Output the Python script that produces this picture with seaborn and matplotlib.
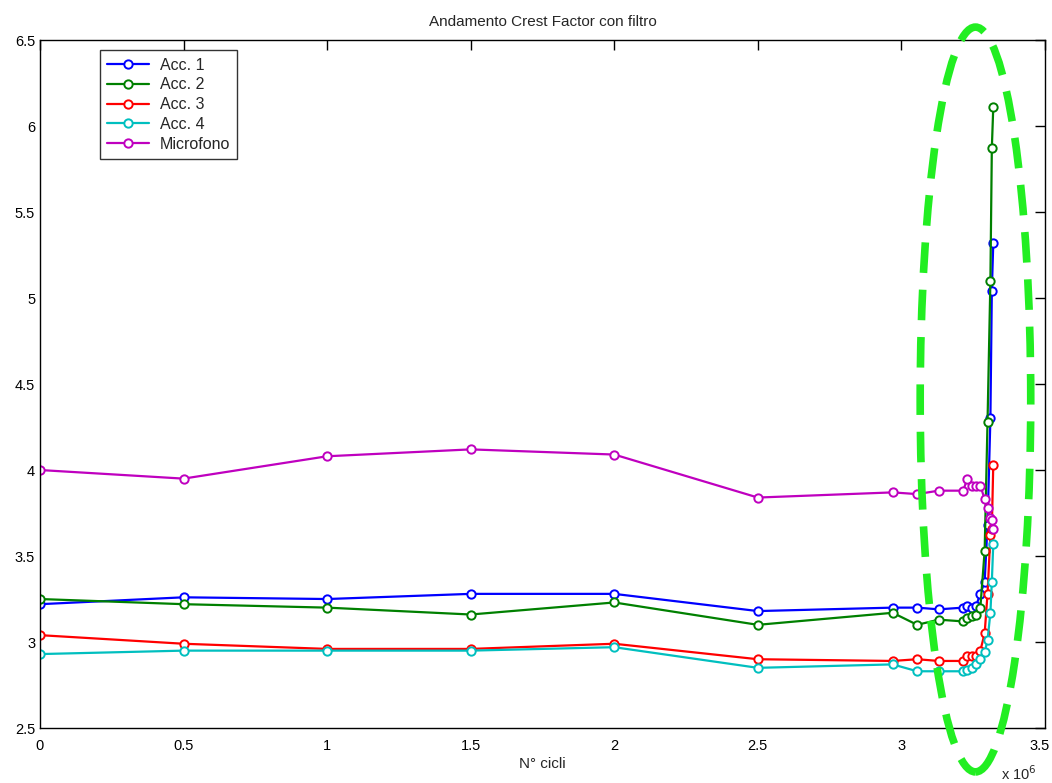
import numpy as np
import pandas as pd
import matplotlib
matplotlib.use("Agg")
import matplotlib.pyplot as plt
import matplotlib.transforms as mtransforms
import seaborn as sns
from matplotlib.patches import Ellipse

# numero di cicli (stesso asse per tutte le serie)
cicli = [0.0, 0.5e6, 1.0e6, 1.5e6, 2.0e6, 2.5e6, 2.97e6, 3.055e6, 3.13e6,
         3.215e6, 3.23e6, 3.245e6, 3.26e6, 3.275e6, 3.29e6, 3.30e6,
         3.31e6, 3.315e6, 3.32e6]

acc1 = [3.22, 3.26, 3.25, 3.28, 3.28, 3.18, 3.20, 3.20, 3.19,
        3.20, 3.21, 3.20, 3.21, 3.28, 3.35, 3.68, 4.30, 5.04, 5.32]
acc2 = [3.25, 3.22, 3.20, 3.16, 3.23, 3.10, 3.17, 3.10, 3.13,
        3.12, 3.14, 3.15, 3.16, 3.20, 3.53, 4.28, 5.10, 5.87, 6.11]
acc3 = [3.04, 2.99, 2.96, 2.96, 2.99, 2.90, 2.89, 2.90, 2.89,
        2.89, 2.92, 2.92, 2.92, 2.95, 3.05, 3.28, 3.62, 3.66, 4.03]
acc4 = [2.93, 2.95, 2.95, 2.95, 2.97, 2.85, 2.87, 2.83, 2.83,
        2.83, 2.84, 2.85, 2.87, 2.90, 2.94, 3.01, 3.17, 3.35, 3.57]
microfono = [4.00, 3.95, 4.08, 4.12, 4.09, 3.84, 3.87, 3.86, 3.88,
             3.88, 3.95, 3.91, 3.91, 3.91, 3.83, 3.78, 3.72, 3.71, 3.66]

serie = ["Acc. 1", "Acc. 2", "Acc. 3", "Acc. 4", "Microfono"]
colori = ["#0000ff", "#008000", "#ff0000", "#00bfbf", "#bf00bf"]

x_ticks = [0, 0.5e6, 1e6, 1.5e6, 2e6, 2.5e6, 3e6, 3.5e6]
x_labels = ["0", "0.5", "1", "1.5", "2", "2.5", "3", "3.5"]
y_ticks = [2.5, 3, 3.5, 4, 4.5, 5, 5.5, 6, 6.5]
y_labels = ["2.5", "3", "3.5", "4", "4.5", "5", "5.5", "6", "6.5"]

df = pd.DataFrame({"cicli": cicli, "Acc. 1": acc1, "Acc. 2": acc2,
                   "Acc. 3": acc3, "Acc. 4": acc4, "Microfono": microfono})
df = df.melt(id_vars="cicli", var_name="serie", value_name="crest")

sns.set_style("white")
plt.rcParams["font.family"] = ["Liberation Sans", "DejaVu Sans"]

fig = plt.figure(figsize=(10.52, 7.83), dpi=100)
ax = fig.add_axes([0.038, 0.0702, 0.9553, 0.8787])

for nome, col in zip(serie, colori):
    sns.lineplot(data=df[df["serie"] == nome], x="cicli", y="crest", ax=ax,
                 color=col, marker="o", markersize=6, markerfacecolor="white",
                 markeredgecolor=col, markeredgewidth=1.4, linewidth=1.6,
                 label=nome, estimator=None, sort=False)

ax.set_xlim(0, 3.5e6)
ax.set_ylim(2.5, 6.5)
ax.set_xticks(x_ticks)
ax.set_xticklabels(x_labels)
ax.set_yticks(y_ticks)
ax.set_yticklabels(y_labels)
ax.tick_params(direction="in", length=7, width=1, top=True, right=True,
               labelsize=10.5, colors="black")
ax.tick_params(axis="x", pad=8)
for s in ax.spines.values():
    s.set_color("black")
    s.set_linewidth(1)

# l'ultima etichetta dell'asse x tocca il bordo: la sposto un poco a sinistra
last = ax.get_xticklabels()[-1]
last.set_transform(last.get_transform() +
                   mtransforms.ScaledTranslation(-4 / 72, 0, fig.dpi_scale_trans))

ax.set_title("Andamento Crest Factor con filtro", fontsize=11, pad=10)
ax.set_xlabel("N° cicli", fontsize=11, labelpad=3)
ax.set_ylabel("")
ax.text(0.992, -0.052, r"x 10$^6$", transform=ax.transAxes, ha="right",
        va="top", fontsize=10.5)

# evidenziazione della zona di rottura
ell = Ellipse((3.258e6, 4.41), 0.385e6, 4.33, angle=0, fill=False,
              edgecolor="#22ee22", linewidth=5.5, linestyle=(0, (4, 2.2)),
              clip_on=False, zorder=5)
ax.add_patch(ell)

leg = ax.legend(loc="upper left", bbox_to_anchor=(0.0597, 0.985), fontsize=11.5,
                frameon=True, fancybox=False, edgecolor="black",
                handlelength=2.6, borderpad=0.45, labelspacing=0.3,
                handletextpad=0.7, borderaxespad=0)
leg.get_frame().set_linewidth(1)

fig.savefig("out.png", dpi=100)
